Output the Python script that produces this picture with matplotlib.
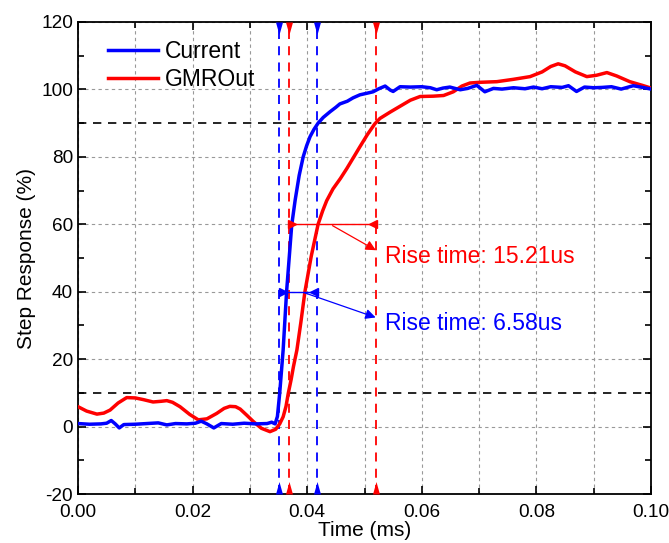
import matplotlib
matplotlib.use("Agg")
import matplotlib.pyplot as plt
from matplotlib.path import Path
from matplotlib.ticker import MultipleLocator

plt.rcParams['font.family'] = ['Liberation Sans', 'DejaVu Sans']
plt.rcParams['axes.unicode_minus'] = False

# Current (blue) trace, time in ms, response in %
cur_t = [0.000, 0.002, 0.004, 0.005, 0.0058, 0.0065, 0.0072, 0.008, 0.010, 0.012,
         0.014, 0.0155, 0.017, 0.019, 0.0205, 0.0215, 0.0225, 0.0237, 0.025, 0.027,
         0.029, 0.031, 0.033, 0.0338, 0.0344, 0.0348, 0.0352, 0.0358, 0.0364, 0.0373,
         0.0379, 0.0386, 0.0393, 0.0399, 0.0405, 0.0412, 0.0419, 0.0428, 0.044, 0.045,
         0.0457, 0.047, 0.048, 0.0492, 0.0505, 0.0515, 0.0525, 0.0536, 0.0545, 0.055,
         0.0562, 0.058, 0.060, 0.0615, 0.0626, 0.0637, 0.0649, 0.0667, 0.068, 0.0696,
         0.071, 0.0725, 0.074, 0.076, 0.078, 0.0795, 0.081, 0.0825, 0.0845, 0.0856,
         0.087, 0.0884, 0.090, 0.0915, 0.0931, 0.0948, 0.0969, 0.0985, 0.100]
cur_v = [0.9, 0.7, 0.8, 1.0, 1.8, 0.8, -0.4, 0.6, 0.7, 0.9,
         1.1, 0.5, 0.9, 0.8, 1.0, 1.6, 0.8, -0.4, 0.9, 0.7,
         1.0, 0.8, 0.9, 1.3, 0.8, 3.0, 9.9, 22.7, 40.0, 59.8,
         67.2, 74.5, 80.0, 83.3, 86.0, 88.2, 90.0, 91.7, 93.4, 94.7,
         95.7, 96.5, 97.5, 98.4, 98.9, 99.3, 100.2, 101.0, 99.8, 99.4,
         100.8, 100.7, 100.8, 100.5, 99.9, 100.4, 100.7, 99.9, 100.3, 101.2,
         99.3, 100.3, 100.1, 100.5, 100.2, 100.7, 100.2, 100.8, 100.6, 101.1,
         99.4, 100.7, 100.5, 100.6, 100.8, 100.1, 101.1, 100.6, 100.1]

# GMROut (red) trace
gmr_t = [0.000, 0.0015, 0.0033, 0.0045, 0.0056, 0.007, 0.0085, 0.0100, 0.0114, 0.0131,
         0.0145, 0.0155, 0.0165, 0.0178, 0.0195, 0.021, 0.0225, 0.0242, 0.0255, 0.0265,
         0.0275, 0.0283, 0.0295, 0.0306, 0.032, 0.0335, 0.0345, 0.0352, 0.0358, 0.0363,
         0.0367, 0.0372, 0.0376, 0.0382, 0.0389, 0.0396, 0.0407, 0.0419, 0.0427, 0.0434,
         0.0445, 0.0458, 0.0469, 0.048, 0.0492, 0.0505, 0.0518, 0.0527, 0.0545, 0.0562,
         0.058, 0.0597, 0.062, 0.0638, 0.0655, 0.067, 0.0684, 0.070, 0.0731, 0.076,
         0.0789, 0.081, 0.0825, 0.0838, 0.085, 0.0868, 0.0888, 0.0905, 0.0923, 0.094,
         0.0963, 0.0985, 0.100]
gmr_v = [5.9, 4.6, 3.7, 4.0, 4.9, 7.0, 8.6, 8.5, 8.0, 7.3,
         7.5, 7.7, 7.2, 5.9, 3.6, 2.0, 2.3, 3.9, 5.4, 6.0,
         5.9, 5.2, 3.3, 1.5, -0.5, -1.5, -0.8, 0.8, 2.9, 6.0,
         9.9, 14.0, 17.8, 22.7, 31.0, 40.0, 50.5, 60.0, 64.0, 67.0,
         70.5, 73.6, 76.5, 79.6, 83.0, 86.6, 89.8, 91.4, 93.3, 95.0,
         96.8, 97.9, 98.0, 98.2, 99.3, 101.0, 101.9, 102.1, 102.3, 103.0,
         103.8, 105.2, 106.8, 107.6, 107.0, 105.2, 103.8, 104.2, 105.0, 104.0,
         102.3, 101.2, 100.4]

# 10% / 90% crossing times (ms) and rise time labels
cur_t10, cur_t90 = 0.0351, 0.0417
gmr_t10, gmr_t90 = 0.0368, 0.0520
thresholds = [10, 90]
cur_label = "Rise time: 6.58us"
gmr_label = "Rise time: 15.21us"

BLUE = '#0000ff'
RED = '#ff0000'

# narrow triangles with the base on the anchor point
tri_down = Path([(-0.28, 0), (0.28, 0), (0, -1), (-0.28, 0)], closed=True)
tri_up = Path([(-0.28, 0), (0.28, 0), (0, 1), (-0.28, 0)], closed=True)

fig = plt.figure(figsize=(6.69, 5.43), dpi=100)
ax = fig.add_axes([0.1166, 0.0902, 0.8565, 0.8693])

ax.set_xlim(0, 0.10)
ax.set_ylim(-20, 120)
ax.xaxis.set_major_locator(MultipleLocator(0.02))
ax.xaxis.set_minor_locator(MultipleLocator(0.01))
ax.yaxis.set_major_locator(MultipleLocator(20))
ax.yaxis.set_minor_locator(MultipleLocator(10))
ax.xaxis.set_major_formatter(plt.FuncFormatter(lambda v, p: f"{v:.2f}"))

ax.grid(which='major', axis='y', color='#999999', ls=(0, (3, 3)), lw=0.8)
ax.grid(which='both', axis='x', color='#999999', ls=(0, (3, 3)), lw=0.8)
ax.set_axisbelow(True)

ax.tick_params(which='both', direction='in', top=True, right=True, labelsize=13.7, width=1.2)
ax.tick_params(which='major', length=6)
ax.tick_params(which='minor', length=4)
ax.tick_params(axis='x', which='major', pad=7)
for s in ax.spines.values():
    s.set_linewidth(1.3)

for th in thresholds:
    ax.axhline(th, color='black', ls=(0, (5, 4)), lw=1.2, zorder=2)

for x, c in [(cur_t10, BLUE), (gmr_t10, RED), (cur_t90, BLUE), (gmr_t90, RED)]:
    ax.axvline(x, color=c, ls=(0, (5, 4)), lw=1.3, zorder=2)
    ax.plot([x], [120], marker=tri_down, color=c, ms=18, mew=0, clip_on=False, zorder=5)
    ax.plot([x], [-20], marker=tri_up, color=c, ms=18, mew=0, clip_on=False, zorder=5)

ax.plot(cur_t, cur_v, color=BLUE, lw=2.5, label='Current', zorder=4)
ax.plot(gmr_t, gmr_v, color=RED, lw=2.5, label='GMROut', zorder=3)

# rise time spans with inward-pointing heads
for (a, b, y, c) in [(gmr_t10, gmr_t90, 60, RED), (cur_t10, cur_t90, 40, BLUE)]:
    ax.plot([a, b], [y, y], color=c, lw=1.0, zorder=5)
    ax.plot([a + 0.0006], [y], marker='>', color=c, ms=6, zorder=5)
    ax.plot([b - 0.0006], [y], marker='<', color=c, ms=6, zorder=5)

ax.annotate('', xy=(0.0524, 51.9), xytext=(0.0440, 60),
            arrowprops=dict(arrowstyle='-|>', color=RED, lw=0.9, mutation_scale=15))
ax.annotate('', xy=(0.0524, 32.1), xytext=(0.0390, 40),
            arrowprops=dict(arrowstyle='-|>', color=BLUE, lw=0.9, mutation_scale=15))
ax.text(0.0536, 50.5, gmr_label, color=RED, fontsize=16.5, va='center', ha='left')
ax.text(0.0536, 30.5, cur_label, color=BLUE, fontsize=16.5, va='center', ha='left')

ax.set_xlabel('Time (ms)', fontsize=15, labelpad=0)
ax.set_ylabel('Step Response (%)', fontsize=15, labelpad=4)

ax.legend(loc='upper left', frameon=False, fontsize=16.5, handlelength=2.2,
          handletextpad=0.3, borderaxespad=0.4, labelspacing=0.2,
          bbox_to_anchor=(0.02, 1.0))

fig.savefig('out.png', dpi=100, facecolor='white')
